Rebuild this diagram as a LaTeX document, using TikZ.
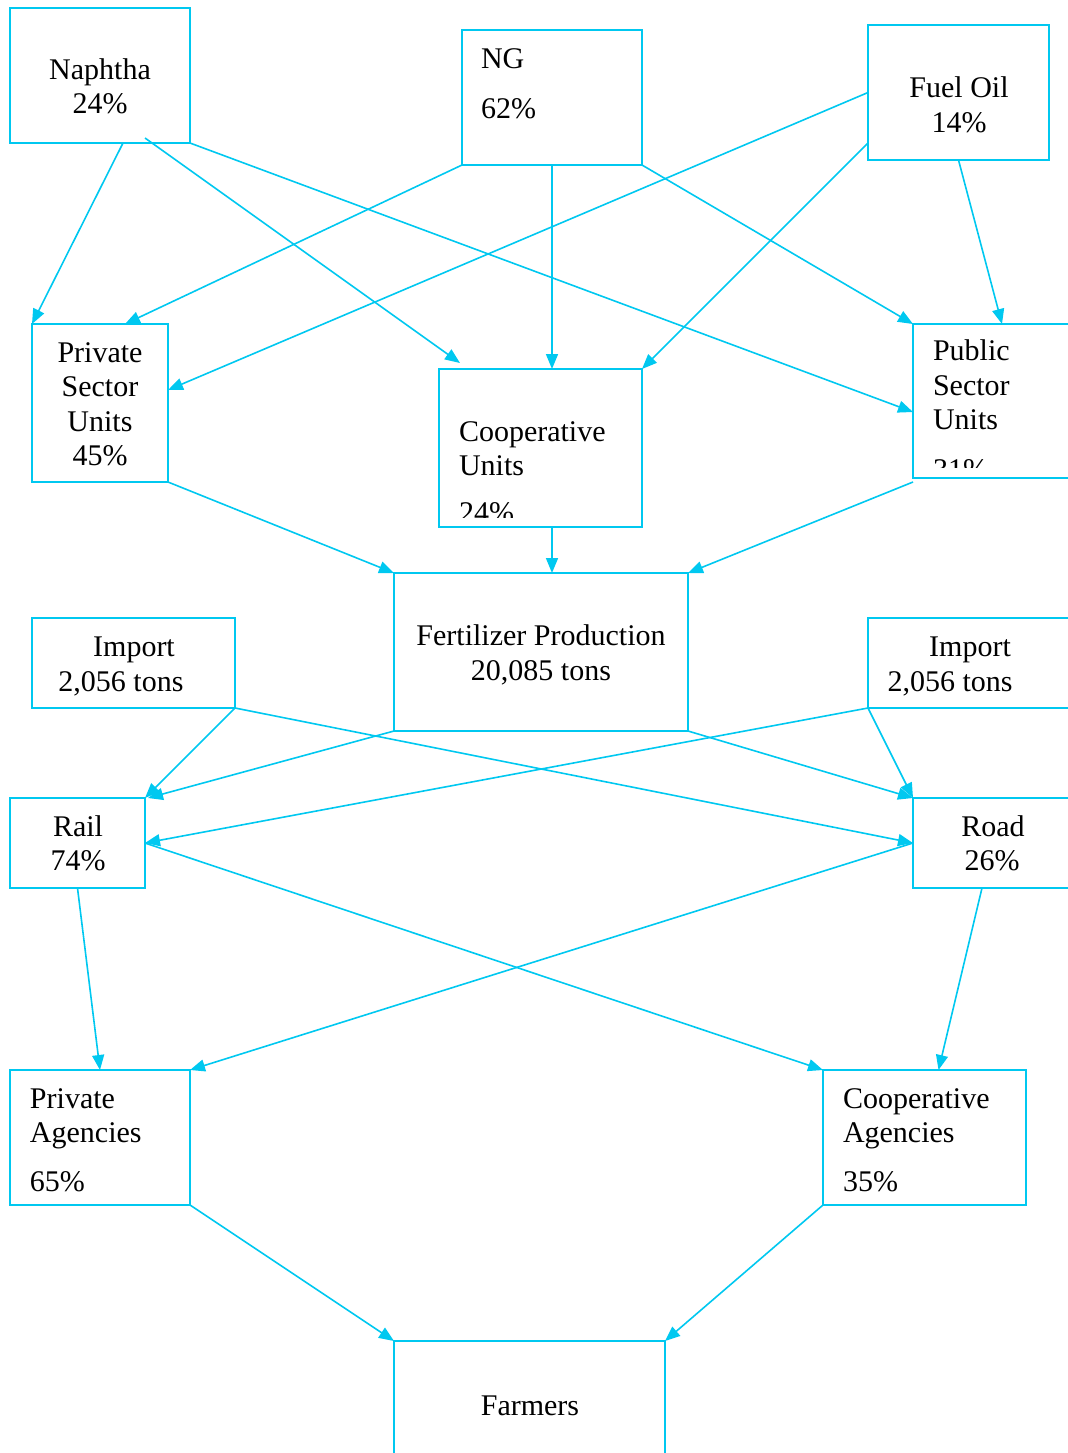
\documentclass[tikz,border=0pt]{standalone}
\usepackage{fontspec}
\setmainfont{Liberation Serif}
\usetikzlibrary{arrows.meta,calc}
\definecolor{lb}{RGB}{0,200,240}
\begin{document}
\begin{tikzpicture}[x=0.5pt,y=-0.5pt,
 box/.style={draw=lb,line width=0.9pt,anchor=north west,inner sep=0pt,outer sep=0pt},
 txt/.style={inner sep=0pt,outer sep=0pt,font=\fontsize{15}{17}\selectfont,text=black},
 arr/.style={draw=lb,line width=0.8pt,-{Triangle[length=7.5pt,width=6pt]}}]
\useasboundingbox (0,0) rectangle (1068,1453);
\clip (0,0) rectangle (1068,1453);
% boxes
\node[box,minimum width=90pt,minimum height=67.5pt] (nap) at (10,8) {};
\node[box,minimum width=90pt,minimum height=67.5pt] (ng) at (462,30) {};
\node[box,minimum width=90.5pt,minimum height=67.5pt] (fo) at (868,25) {};
\node[box,minimum width=68pt,minimum height=79pt] (pvt) at (32,324) {};
\node[box,minimum width=101.5pt,minimum height=79pt] (cu) at (439,369) {};
\node[box,minimum width=100pt,minimum height=77pt] (pub) at (913,324) {};
\node[box,minimum width=147pt,minimum height=79pt] (fp) at (394,573) {};
\node[box,minimum width=101.5pt,minimum height=45pt] (impL) at (32,618) {};
\node[box,minimum width=115pt,minimum height=45pt] (impR) at (868,618) {};
\node[box,minimum width=67.5pt,minimum height=45pt] (rail) at (10,798) {};
\node[box,minimum width=100pt,minimum height=45pt] (road) at (913,798) {};
\node[box,minimum width=90pt,minimum height=67.5pt] (pa) at (10,1070) {};
\node[box,minimum width=101.5pt,minimum height=67.5pt] (ca) at (823,1070) {};
\node[box,minimum width=135.5pt,minimum height=75pt] (farm) at (394,1341) {};
% texts
\node[txt,anchor=base] (t1) at (100,79) {Naphtha};
\node[txt,anchor=base] (t2) at (100,113) {24\%};
\node[txt,anchor=base west] (t3) at (481,68) {NG};
\node[txt,anchor=base west] (t4) at (481,118) {62\%};
\node[txt,anchor=base] (t5) at (959,97) {Fuel Oil};
\node[txt,anchor=base] (t6) at (959,132) {14\%};
\node[txt,anchor=base] (t7) at (100,362) {Private};
\node[txt,anchor=base] (t8) at (100,396) {Sector};
\node[txt,anchor=base] (t9) at (100,431) {Units};
\node[txt,anchor=base] (t10) at (100,465) {45\%};
\node[txt,anchor=base west] (t11) at (459,441) {Cooperative};
\node[txt,anchor=base west] (t12) at (459,475) {Units};
\begin{scope}
\clip (439,369) rectangle (642,517);
\node[txt,anchor=base west] (t13) at (459,522) {24\%};
\end{scope}
\node[txt,anchor=base west] (t14) at (933,360) {Public};
\node[txt,anchor=base west] (t15) at (933,395) {Sector};
\node[txt,anchor=base west] (t16) at (933,429) {Units};
\begin{scope}
\clip (913,324) rectangle (1068,467);
\node[txt,anchor=base west] (t17) at (933,479) {31\%};
\end{scope}
\node[txt,anchor=base] (t18) at (541,645) {Fertilizer Production};
\node[txt,anchor=base] (t19) at (541,680) {20,085 tons};
\node[txt,anchor=base] (t20) at (134,656) {Import};
\node[txt,anchor=base] (t21) at (121,691) {2,056 tons};
\node[txt,anchor=base] (t22) at (970,656) {Import};
\node[txt,anchor=base] (t23) at (950,691) {2,056 tons};
\node[txt,anchor=base] (t24) at (78,836) {Rail};
\node[txt,anchor=base] (t25) at (78,870) {74\%};
\node[txt,anchor=base] (t26) at (993,836) {Road};
\node[txt,anchor=base] (t27) at (992,870) {26\%};
\node[txt,anchor=base west] (t28) at (30,1108) {Private};
\node[txt,anchor=base west] (t29) at (30,1142) {Agencies};
\node[txt,anchor=base west] (t30) at (30,1191) {65\%};
\node[txt,anchor=base west] (t31) at (843,1108) {Cooperative};
\node[txt,anchor=base west] (t32) at (843,1142) {Agencies};
\node[txt,anchor=base west] (t33) at (843,1191) {35\%};
\node[txt,anchor=base] (t34) at (530,1415) {Farmers};
% connectors
\draw[arr] ($(nap.south)+(23,0)$) -- (pvt.north west);
\draw[arr] ($(nap.south)+(45,-5)$) -- ($(cu.north west)+(21,-6)$);
\draw[arr] (nap.south east) -- ($(pub.west)+(0,11)$);
\draw[arr] (ng.south west) -- ($(pvt.north)+(25,0)$);
\draw[arr] (ng.south) -- (ng.south |- cu.north);
\draw[arr] (ng.south east) -- (pub.north west);
\draw[arr] (fo.west) -- ($(pvt.east)+(0,-13)$);
\draw[arr] ($(fo.south west)+(0,-17)$) -- (cu.north east);
\draw[arr] (fo.south) -- ($(pub.north west)+(89,0)$);
\draw[arr] (pvt.south east) -- (fp.north west);
\draw[arr] (ng.south |- cu.south) -- (ng.south |- fp.north);
\draw[arr] ($(pub.south west)+(0,4)$) -- (fp.north east);
\draw[arr] (impL.south east) -- (rail.north east);
\draw[arr] (impL.south east) -- (road.west);
\draw[arr] (fp.south west) -- ($(rail.north east)+(3,0)$);
\draw[arr] (fp.south east) -- (road.north west);
\draw[arr] (impR.south west) -- (rail.east);
\draw[arr] (impR.south west) -- (road.north west);
\draw[arr] (rail.east) -- (ca.north west);
\draw[arr] (road.west) -- (pa.north east);
\draw[arr] (rail.south) -- (pa.north);
\draw[arr] ($(road.south west)+(69,0)$) -- ($(ca.north)+(14,0)$);
\draw[arr] (pa.south east) -- (farm.north west);
\draw[arr] (ca.south west) -- (farm.north east);
\end{tikzpicture}
\end{document}
